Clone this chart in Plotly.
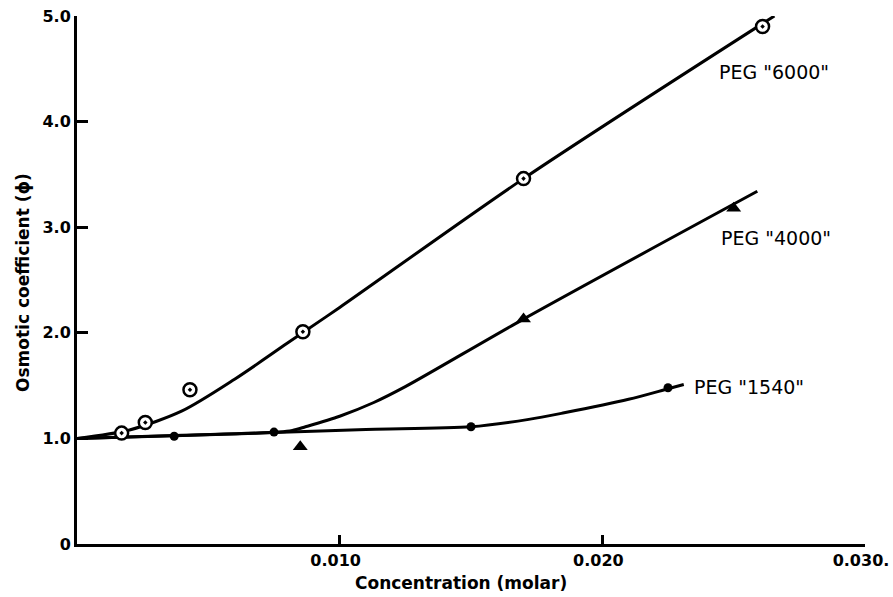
import plotly.graph_objects as go

# Measured points
peg6000_x = [0.0017, 0.0026, 0.0043, 0.0086, 0.0170, 0.0261]
peg6000_y = [1.05, 1.15, 1.46, 2.01, 3.46, 4.90]
peg4000_x = [0.0085, 0.0170, 0.0250]
peg4000_y = [0.92, 2.13, 3.18]
peg1540_x = [0.0037, 0.0075, 0.0150, 0.0225]
peg1540_y = [1.02, 1.06, 1.11, 1.48]

# Drawn curves
peg6000_curve_x = [0.0, 0.002, 0.004, 0.006, 0.008, 0.010, 0.017, 0.02655]
peg6000_curve_y = [1.0, 1.08, 1.26, 1.56, 1.90, 2.24, 3.46, 5.00]
peg4000_curve_x = [0.0, 0.0040, 0.0077, 0.0082, 0.0087, 0.0100, 0.0113, 0.0125, 0.0170, 0.0259]
peg4000_curve_y = [1.0, 1.03, 1.06, 1.075, 1.11, 1.21, 1.34, 1.49, 2.13, 3.34]
peg1540_curve_x = [0.0, 0.0037, 0.0075, 0.0110, 0.0150, 0.0172, 0.0185, 0.0210, 0.0225, 0.0231]
peg1540_curve_y = [1.0, 1.025, 1.055, 1.085, 1.11, 1.18, 1.24, 1.37, 1.47, 1.51]

labels = ['PEG "6000"', 'PEG "4000"', 'PEG "1540"']
label_x = [0.02436, 0.02444, 0.02341]
label_y = [4.47, 2.90, 1.487]

x_tickvals = [0.010, 0.020, 0.030]
x_ticktext = ["0.010", "0.020", "0.030."]
y_tickvals = [0, 1, 2, 3, 4, 5]
y_ticktext = ["0", "1.0", "2.0", "3.0", "4.0", "5.0"]

FONT = "DejaVu Sans"
fig = go.Figure()

for cx, cy in [(peg6000_curve_x, peg6000_curve_y),
               (peg4000_curve_x, peg4000_curve_y),
               (peg1540_curve_x, peg1540_curve_y)]:
    fig.add_trace(go.Scatter(x=cx, y=cy, mode="lines",
                             line=dict(color="black", width=3, shape="spline", smoothing=0.8),
                             hoverinfo="skip", showlegend=False))

fig.add_trace(go.Scatter(x=peg6000_x, y=peg6000_y, mode="markers",
                         marker=dict(symbol="circle-dot", size=13, color="white",
                                     line=dict(color="black", width=2.5)),
                         showlegend=False, cliponaxis=False))
fig.add_trace(go.Scatter(x=peg4000_x, y=peg4000_y, mode="markers",
                         marker=dict(symbol="triangle-up", size=13, color="black",
                                     line=dict(color="black", width=0)),
                         showlegend=False, cliponaxis=False))
fig.add_trace(go.Scatter(x=peg1540_x, y=peg1540_y, mode="markers",
                         marker=dict(symbol="circle", size=9, color="black"),
                         showlegend=False, cliponaxis=False))

for t, lx, ly in zip(labels, label_x, label_y):
    fig.add_annotation(x=lx, y=ly, text=t, showarrow=False, xanchor="left", yanchor="middle",
                       font=dict(family=FONT, size=19, color="black"))

# axis titles as paper annotations
fig.add_annotation(xref="paper", yref="paper", x=(461 - 77) / 788, y=0, yshift=-39,
                   text="Concentration (molar)", showarrow=False,
                   xanchor="center", yanchor="middle",
                   font=dict(family=FONT, size=17, color="black", weight="bold"))
fig.add_annotation(xref="paper", yref="paper", x=0, xshift=-54, y=(544 - 283) / 528,
                   text="Osmotic coefficient (ϕ)", showarrow=False, textangle=-90,
                   xanchor="center", yanchor="middle",
                   font=dict(family=FONT, size=17, color="black", weight="bold"))

fig.update_layout(
    width=893, height=597,
    margin=dict(l=77, r=28, t=16, b=53),
    paper_bgcolor="white", plot_bgcolor="white",
    font=dict(family=FONT, color="black"),
)
fig.update_xaxes(range=[0, 0.030], showgrid=False, zeroline=False, automargin=False,
                 showline=True, linecolor="black", linewidth=3,
                 ticks="inside", ticklen=9, tickwidth=2.5, tickcolor="black",
                 tickvals=x_tickvals, ticktext=x_ticktext, ticklabelshift=-4,
                 tickfont=dict(family=FONT, size=16, color="black", weight="bold"))
fig.update_yaxes(range=[0, 5.0], showgrid=False, zeroline=False, automargin=False,
                 showline=True, linecolor="black", linewidth=3,
                 ticks="inside", ticklen=11, tickwidth=2.5, tickcolor="black",
                 tickvals=y_tickvals, ticktext=y_ticktext,
                 tickfont=dict(family=FONT, size=16, color="black", weight="bold"))

fig.write_html("out.html", config={"displayModeBar": False},
               post_script="document.body.style.margin='0';document.body.style.padding='0';document.body.style.overflow='hidden';")
